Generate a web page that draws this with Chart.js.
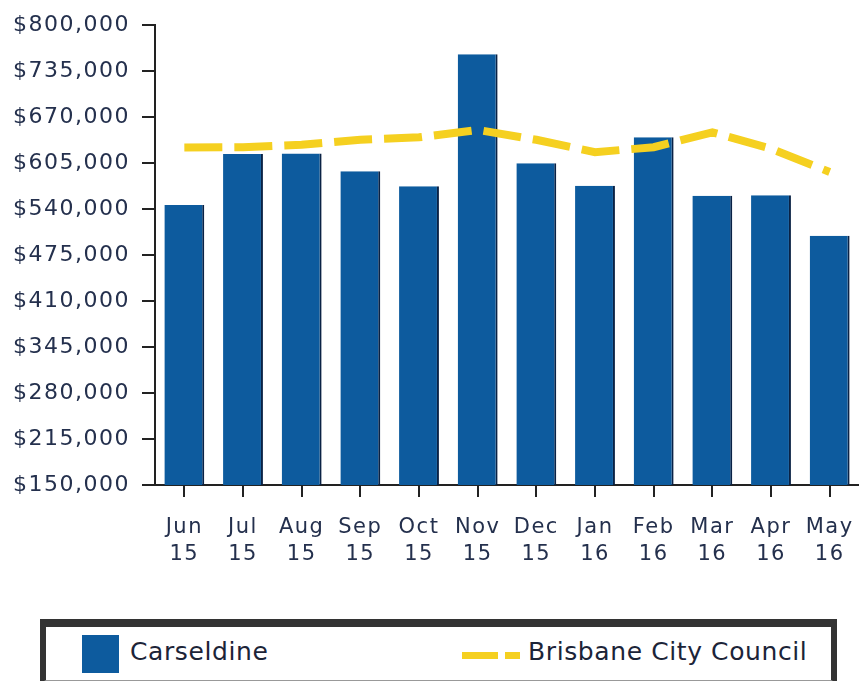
<!DOCTYPE html>
<html>
<head>
<meta charset="utf-8">
<script src="https://cdn.jsdelivr.net/npm/chart.js@4/dist/chart.umd.min.js"></script>
<style>
	body { margin: 0; background: #fff; font-family: 'DejaVu Sans', sans-serif; }
	#wrap { position: relative; width: 859px; height: 600px; }
	#legend {
		position: absolute; left: 40px; top: 619px; width: 785px; height: 53px;
		border: 6px solid #333; border-top-width: 8px; border-bottom: 3px solid #999; background: #fff;
	}
	#legend .sw { position: absolute; left: 36px; top: 8px; width: 37px; height: 38px; background: #0d5b9e; }
	#legend .lab { position: absolute; top: 10px; font-size: 25px; letter-spacing: 0.6px; color: #1c2438; }
	#legend .dash {
		position: absolute; left: 416px; top: 25px; width: 58px; height: 7px;
		background: linear-gradient(to right, #f5d020 0 36px, transparent 36px 43px, #f5d020 43px 58px);
	}
</style>
</head>
<body>
<div id="wrap"><canvas id="chart1"></canvas></div>
<div id="legend"></div>
<script>
const months = [['Jun', '15'], ['Jul', '15'], ['Aug', '15'], ['Sep', '15'], ['Oct', '15'], ['Nov', '15'],
	['Dec', '15'], ['Jan', '16'], ['Feb', '16'], ['Mar', '16'], ['Apr', '16'], ['May', '16']];
const carseldine = [546000, 618000, 618500, 593500, 572500, 759000, 605000, 573000, 641500, 559000, 559500, 502500];
const brisbane = [627000, 627500, 631000, 638000, 641500, 652000, 638000, 620500, 627500, 648500, 625500, 592500];
const yTicks = [150000, 215000, 280000, 345000, 410000, 475000, 540000, 605000, 670000, 735000, 800000];

const seriesNames = ['Carseldine', 'Brisbane City Council'];

// simple html legend, the original has a framed box under the chart
document.getElementById('legend').innerHTML =
	`<div class="sw"></div><div class="lab" style="left:84px">${seriesNames[0]}</div>` +
	`<div class="dash"></div><div class="lab" style="left:482px">${seriesNames[1]}</div>`;

// the axis text in the original is spaced out a bit
const spacing = {
	id: 'spacing',
	beforeDraw(chart) { chart.ctx.letterSpacing = '1.5px'; }
};

let ds = {
	labels: months,
	datasets: [{
		type: 'line',
		label: seriesNames[1],
		data: brisbane,
		borderColor: '#f5d020',
		borderWidth: 8,
		borderDash: [38, 12],
		borderCapStyle: 'butt',
		pointRadius: 0,
		tension: 0,
		fill: false,
		order: 0
	}, {
		type: 'bar',
		label: seriesNames[0],
		data: carseldine,
		backgroundColor: '#0d5b9e',
		borderColor: '#0a2245',
		borderWidth: { top: 0, right: 2, bottom: 0, left: 0 },
		borderSkipped: false,
		barPercentage: 0.68,
		categoryPercentage: 1,
		order: 1
	}]
};

const options = {
	responsive: false,
	animation: false,
	layout: { padding: { top: 20, right: 0, left: 0, bottom: 0 } },
	plugins: {
		legend: { display: false },
		tooltip: { enabled: false }
	},
	scales: {
		x: {
			offset: true,
			afterFit: (s) => { s.height = 115; s.paddingLeft = 0; s.paddingRight = 0; },
			border: { display: true, color: '#222', width: 2 },
			grid: { offset: false, drawOnChartArea: false, drawTicks: true, tickLength: 12, color: '#222', lineWidth: 2 },
			ticks: {
				color: '#24304d',
				padding: 17,
				maxRotation: 0,
				autoSkip: false,
				font: { family: 'DejaVu Sans', size: 21, lineHeight: 1.3 }
			}
		},
		y: {
			min: 150000,
			max: 800000,
			afterFit: (s) => { s.width = 155; },
			afterBuildTicks: (s) => { s.ticks = yTicks.map(v => ({ value: v })); },
			border: { display: true, color: '#222', width: 2 },
			grid: { drawOnChartArea: false, drawTicks: true, tickLength: 13, color: '#222', lineWidth: 2 },
			ticks: {
				color: '#24304d',
				padding: 12,
				font: { family: 'DejaVu Sans', size: 22 },
				callback: (value) => '$' + Number(value).toLocaleString('en-US')
			}
		}
	}
};

const canvas = document.getElementById('chart1');
canvas.width = 859;
canvas.height = 600;
const myChart = new Chart(canvas.getContext('2d'), {
	data: ds,
	options: options,
	plugins: [spacing]
});
</script>
</body>
</html>
